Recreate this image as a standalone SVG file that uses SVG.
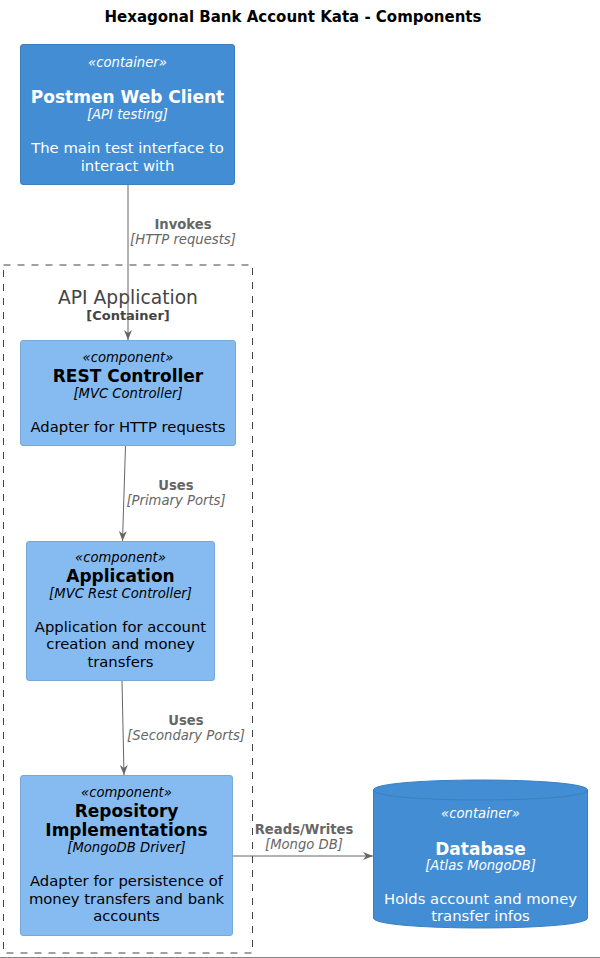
<svg xmlns="http://www.w3.org/2000/svg" width="600" height="958" viewBox="0 0 600 958">
<defs>
<style>
text{font-family:"DejaVu Sans","Liberation Sans",sans-serif;text-anchor:middle}
.title{font-size:15px;font-weight:bold;fill:#000}
.cont{fill:#438DD5;stroke:#3C7FC0;stroke-width:1}
.comp{fill:#85BBF0;stroke:#78A8D8;stroke-width:1}
.w{fill:#FFFFFF}
.k{fill:#000000}
.st{font-size:13.2px;font-style:italic}
.nm{font-size:17px;font-weight:bold}
.tc{font-size:13.2px;font-style:italic}
.ds{font-size:14.8px}
.edge{stroke:#666666;stroke-width:1;fill:none}
.el{font-size:13.2px;font-weight:bold;fill:#666666}
.et{font-size:13.2px;font-style:italic;fill:#666666}
.bnd{fill:none;stroke:#444444;stroke-width:1;stroke-dasharray:7,7}
</style>
<marker id="arr" viewBox="0 0 10 10" refX="10" refY="5" markerWidth="10" markerHeight="10" markerUnits="userSpaceOnUse" orient="auto">
<path d="M0,1 L10,5 L0,9 L3,5 Z" fill="#666666"/>
</marker>
</defs>
<rect width="600" height="958" fill="#FFFFFF"/>
<text class="title" x="293" y="22">Hexagonal Bank Account Kata - Components</text>

<g id="boundary">
<rect class="bnd" x="3.5" y="265" width="249" height="688"/>
<text x="128" y="304" style="font-size:18.7px;fill:#444444">API Application</text>
<text x="128" y="320" style="font-size:13px;font-weight:bold;fill:#444444">[Container]</text>
</g>

<g id="postmen">
<rect class="cont" x="20.5" y="44.5" width="214" height="140" rx="2.5"/>
<text class="st w" x="127.5" y="67">«container»</text>
<text class="nm w" x="127.5" y="103">Postmen Web Client</text>
<text class="tc w" x="127.5" y="119">[API testing]</text>
<text class="ds w" x="127.5" y="153">The main test interface to</text>
<text class="ds w" x="127.5" y="171">interact with</text>
</g>

<g id="rest">
<rect class="comp" x="20.5" y="340.5" width="215" height="105" rx="2.5"/>
<text class="st k" x="128" y="362">«component»</text>
<text class="nm k" x="128" y="382">REST Controller</text>
<text class="tc k" x="128" y="398">[MVC Controller]</text>
<text class="ds k" x="128" y="432">Adapter for HTTP requests</text>
</g>

<g id="application">
<rect class="comp" x="26.5" y="541.5" width="188" height="139" rx="2.5"/>
<text class="st k" x="120.5" y="562">«component»</text>
<text class="nm k" x="120.5" y="582">Application</text>
<text class="tc k" x="120.5" y="598">[MVC Rest Controller]</text>
<text class="ds k" x="120.5" y="632">Application for account</text>
<text class="ds k" x="120.5" y="649">creation and money</text>
<text class="ds k" x="120.5" y="667">transfers</text>
</g>

<g id="repository">
<rect class="comp" x="20.5" y="775.5" width="212" height="160" rx="2.5"/>
<text class="st k" x="126.5" y="797">«component»</text>
<text class="nm k" x="126.5" y="817">Repository</text>
<text class="nm k" x="126.5" y="836">Implementations</text>
<text class="tc k" x="126.5" y="852">[MongoDB Driver]</text>
<text class="ds k" x="126.5" y="886">Adapter for persistence of</text>
<text class="ds k" x="126.5" y="904">money transfers and bank</text>
<text class="ds k" x="126.5" y="921">accounts</text>
</g>

<g id="database">
<path class="cont" d="M373.5,790 C373.5,776.7 587.5,776.7 587.5,790 L587.5,918 C587.5,931.3 373.5,931.3 373.5,918 Z"/>
<path d="M373.5,790 C373.5,803.3 587.5,803.3 587.5,790" fill="none" stroke="#3C7FC0" stroke-width="1"/>
<text class="st w" x="480.5" y="818">«container»</text>
<text class="nm w" x="480.5" y="855">Database</text>
<text class="tc w" x="480.5" y="870">[Atlas MongoDB]</text>
<text class="ds w" x="480.5" y="904">Holds account and money</text>
<text class="ds w" x="480.5" y="921">transfer infos</text>
</g>

<g id="connectors">
<line class="edge" x1="128" y1="185" x2="128" y2="340" marker-end="url(#arr)"/>
<text class="el" x="183" y="229">Invokes</text>
<text class="et" x="183" y="244">[HTTP requests]</text>

<line class="edge" x1="125.5" y1="446" x2="122.5" y2="541" marker-end="url(#arr)"/>
<text class="el" x="176" y="490">Uses</text>
<text class="et" x="176" y="505">[Primary Ports]</text>

<line class="edge" x1="122" y1="681" x2="124" y2="775" marker-end="url(#arr)"/>
<text class="el" x="186" y="725">Uses</text>
<text class="et" x="186" y="740">[Secondary Ports]</text>

<line class="edge" x1="233" y1="856" x2="373" y2="856" marker-end="url(#arr)"/>
<text class="el" x="304" y="834">Reads/Writes</text>
<text class="et" x="304" y="849">[Mongo DB]</text>
</g>
<line x1="0" y1="957.5" x2="600" y2="957.5" stroke="#888888" stroke-width="1"/>
</svg>
